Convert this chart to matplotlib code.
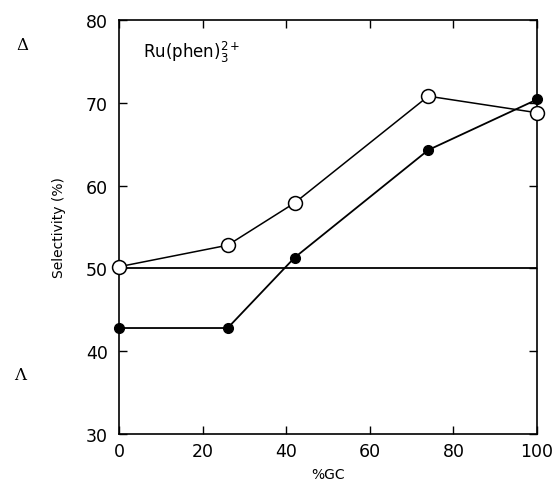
import matplotlib
matplotlib.use("Agg")
import matplotlib.pyplot as plt

gc_open = [0, 26, 42, 74, 100]
sel_open = [50.2, 52.8, 57.9, 70.8, 68.8]
gc_filled = [0, 26, 42, 74, 100]
sel_filled = [42.8, 42.8, 51.3, 64.3, 70.4]
xticks = [0, 20, 40, 60, 80, 100]
yticks = [30, 40, 50, 60, 70, 80]

plt.rcParams['font.family'] = ['DejaVu Sans']
fig = plt.figure(figsize=(5.57, 4.89), dpi=100)
ax = fig.add_axes([119/557, 1-435/489, (537-119)/557, (435-21)/489])

ax.plot([0, 100], [50, 50], color='black', lw=1.3, zorder=1)
ax.plot(gc_filled, sel_filled, color='black', lw=1.3, marker='o', ms=7,
        mfc='black', mec='black', zorder=2, clip_on=False)
ax.plot(gc_open, sel_open, color='black', lw=1.1, marker='o', ms=10,
        mfc='white', mec='black', mew=1.1, zorder=3, clip_on=False)

ax.set_xlim(0, 100)
ax.set_ylim(30, 80)
ax.set_xticks(xticks)
ax.set_yticks(yticks)
ax.tick_params(direction='in', length=6, width=1.0, top=True, right=True,
               labelsize=12.5)
ax.tick_params(axis='y', pad=8)
ax.tick_params(axis='x', pad=6)
for s in ax.spines.values():
    s.set_linewidth(1.2)

ax.set_xlabel('%GC', fontsize=10, labelpad=5)
ax.set_ylabel('Selectivity (%)', fontsize=10, labelpad=14)

ax.text(0.057, 0.925, r'Ru(phen)$_3^{2+}$', transform=ax.transAxes,
        fontsize=12, ha='left', va='center')
ax.text(-0.232, 77, '\u0394', transform=ax.get_yaxis_transform(),
        fontsize=12, ha='center', va='center', family='DejaVu Serif')
ax.text(-0.237, 37.2, '\u039b', transform=ax.get_yaxis_transform(),
        fontsize=12, ha='center', va='center', family='DejaVu Serif')

fig.savefig('out.png', dpi=100)
